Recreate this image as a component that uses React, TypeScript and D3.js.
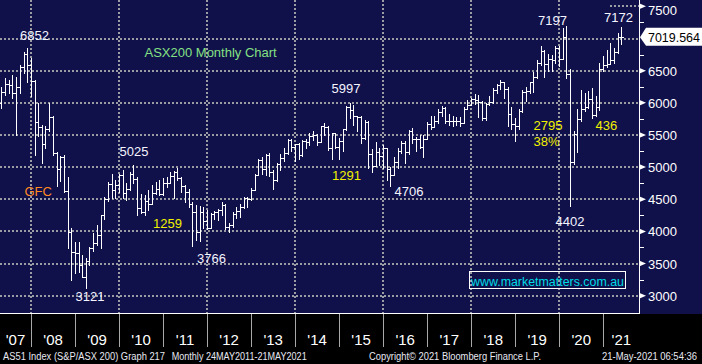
import React from "react";
import * as d3 from "d3";

// ---------- DATA ----------
const MONTHS: string[] = [
  "2007-04","2007-05","2007-06","2007-07","2007-08","2007-09","2007-10","2007-11","2007-12",
  "2008-01","2008-02","2008-03","2008-04","2008-05","2008-06","2008-07","2008-08","2008-09","2008-10","2008-11","2008-12",
  "2009-01","2009-02","2009-03","2009-04","2009-05","2009-06","2009-07","2009-08","2009-09","2009-10","2009-11","2009-12",
  "2010-01","2010-02","2010-03","2010-04","2010-05","2010-06","2010-07","2010-08","2010-09","2010-10","2010-11","2010-12",
  "2011-01","2011-02","2011-03","2011-04","2011-05","2011-06","2011-07","2011-08","2011-09","2011-10","2011-11","2011-12",
  "2012-01","2012-02","2012-03","2012-04","2012-05","2012-06","2012-07","2012-08","2012-09","2012-10","2012-11","2012-12",
  "2013-01","2013-02","2013-03","2013-04","2013-05","2013-06","2013-07","2013-08","2013-09","2013-10","2013-11","2013-12",
  "2014-01","2014-02","2014-03","2014-04","2014-05","2014-06","2014-07","2014-08","2014-09","2014-10","2014-11","2014-12",
  "2015-01","2015-02","2015-03","2015-04","2015-05","2015-06","2015-07","2015-08","2015-09","2015-10","2015-11","2015-12",
  "2016-01","2016-02","2016-03","2016-04","2016-05","2016-06","2016-07","2016-08","2016-09","2016-10","2016-11","2016-12",
  "2017-01","2017-02","2017-03","2017-04","2017-05","2017-06","2017-07","2017-08","2017-09","2017-10","2017-11","2017-12",
  "2018-01","2018-02","2018-03","2018-04","2018-05","2018-06","2018-07","2018-08","2018-09","2018-10","2018-11","2018-12",
  "2019-01","2019-02","2019-03","2019-04","2019-05","2019-06","2019-07","2019-08","2019-09","2019-10","2019-11","2019-12",
  "2020-01","2020-02","2020-03","2020-04","2020-05","2020-06","2020-07","2020-08","2020-09","2020-10","2020-11","2020-12",
  "2021-01","2021-02","2021-03","2021-04","2021-05",
];

const OPEN: number[] = [
  6000,6170,6300,6274,6148,6248,6560,6760,6590,
  6340,5697,5627,5355,5598,5773,5215,4975,5160,4632,3983,3672,
  3659,3478,3296,3532,3745,3813,3947,4249,4508,4743,4643,4715,
  4883,4596,4659,4894,4809,4367,4301,4479,4428,4599,4661,4584,
  4745,4753,4856,4929,4823,4704,4608,4424,4297,3985,4298,4164,
  4057,4263,4304,4335,4403,4066,4095,4276,4316,4387,4517,4506,
  4649,4879,5104,4967,5191,4926,4803,5052,5135,5218,5426,5320,
  5352,5190,5405,5394,5489,5492,5396,5633,5625,5292,5527,5313,
  5411,5588,5929,5891,5790,5777,5459,5699,5207,5022,5239,5167,
  5296,4977,4881,5083,5252,5378,5233,5562,5433,5436,5318,5440,
  5666,5621,5712,5864,5924,5724,5721,5720,5715,5682,5909,5970,
  6065,6037,6016,5759,5982,6012,6195,6281,6320,6208,5830,5667,
  5646,5865,6169,6181,6325,6397,6619,6813,6604,6688,6663,6846,
  6684,7017,6441,5077,5522,5755,5898,5928,6061,5816,5928,6518,
  6587,6607,6673,6791,7025,
];

const HIGH: number[] = [
  6250,6390,6360,6435,6405,6590,6790,6852,6690,
  6360,6000,5650,5640,5997,5800,5240,5170,5190,4850,4050,3840,
  3840,3630,3580,3750,3970,4100,4256,4540,4774,4900,4800,4890,
  4955,4750,4930,5025,4850,4580,4560,4640,4720,4775,4800,4826,
  4850,4930,4940,4980,4850,4720,4660,4450,4410,4400,4385,4330,
  4280,4320,4350,4450,4420,4130,4300,4380,4420,4530,4540,4670,
  4890,5130,5150,5200,5220,4950,5070,5200,5290,5440,5440,5360,
  5380,5420,5440,5530,5560,5510,5640,5680,5640,5530,5530,5450,
  5600,5950,5997,5960,5800,5790,5730,5720,5280,5390,5300,5340,
  5300,5000,5150,5290,5410,5400,5570,5610,5470,5500,5500,5700,
  5800,5800,5900,5950,5940,5830,5800,5780,5780,5930,6050,6080,
  6140,6120,6030,6000,6110,6230,6300,6360,6330,6250,5930,5760,
  5900,6200,6250,6330,6480,6660,6880,6820,6760,6750,6880,6880,
  7160,7197,6520,5560,5910,6200,6160,6180,6230,6100,6620,6730,
  6820,6930,6850,7080,7172,
];

const LOW: number[] = [
  5925,6120,6150,6070,5500,6150,6460,6330,6100,
  5186,5480,5060,5300,5560,5190,4700,4780,4620,3740,3250,3350,
  3370,3290,3121,3480,3700,3790,3740,4200,4480,4520,4515,4618,
  4520,4489,4645,4760,4250,4290,4250,4340,4420,4580,4560,4570,
  4690,4750,4520,4800,4620,4460,4385,3766,3870,3850,4060,4040,
  4050,4200,4180,4250,4030,3990,4070,4210,4230,4360,4380,4490,
  4640,4870,4890,4880,4860,4660,4780,4950,5090,5210,5250,5100,
  5130,5170,5300,5340,5420,5350,5390,5500,5270,5120,5300,5130,
  5250,5580,5760,5650,5560,5380,5430,4990,4920,5010,5030,4980,
  4800,4706,4870,4990,5220,5060,5200,5380,5250,5300,5150,5440,
  5600,5620,5690,5800,5680,5650,5640,5650,5640,5680,5900,5960,
  5980,5780,5740,5740,5970,5990,6150,6210,6080,5640,5600,5410,
  5600,5860,6030,6150,6170,6390,6590,6400,6490,6490,6620,6580,
  6680,6380,4402,5050,5240,5720,5880,5920,5760,5790,5890,6500,
  6560,6620,6620,6770,6920,
];

const CLOSE: number[] = [
  6170,6300,6274,6148,6248,6560,6760,6590,6340,
  5697,5627,5355,5598,5773,5215,4975,5160,4632,3983,3672,3659,
  3478,3296,3532,3745,3813,3947,4249,4508,4743,4643,4715,4883,
  4596,4659,4894,4809,4367,4301,4479,4428,4599,4661,4584,4745,
  4753,4856,4929,4823,4704,4608,4424,4297,3985,4298,4164,4057,
  4263,4304,4335,4403,4066,4095,4276,4316,4387,4517,4506,4649,
  4879,5104,4967,5191,4926,4803,5052,5135,5218,5426,5320,5352,
  5190,5405,5394,5489,5492,5396,5633,5625,5292,5527,5313,5411,
  5588,5929,5891,5790,5777,5459,5699,5207,5022,5239,5167,5296,
  4977,4881,5083,5252,5378,5233,5562,5433,5436,5318,5440,5666,
  5621,5712,5864,5924,5724,5721,5720,5715,5682,5909,5970,6065,
  6037,6016,5759,5982,6012,6195,6281,6320,6208,5830,5667,5646,
  5865,6169,6181,6325,6397,6619,6813,6604,6688,6663,6846,6684,
  7017,6441,5077,5522,5755,5898,5928,6061,5816,5928,6518,6587,
  6607,6673,6791,7025,7019.564,
];

const LAST_PRICE = 7019.564;
const Y_TICKS: number[] = [3000, 3500, 4000, 4500, 5000, 5500, 6000, 6500, 7000, 7500];
const Y_GRID: number[] = [3000, 3500, 4000, 4500, 5000, 5500, 6000, 6500, 7000];
const Y_MINOR: number[] = [3250, 3750, 4250, 4750, 5250, 5750, 6250, 6750, 7250];
const YEARS: number[] = [2007,2008,2009,2010,2011,2012,2013,2014,2015,2016,2017,2018,2019,2020,2021];
const YEAR_LABELS: string[] = ["'07","'08","'09","'10","'11","'12","'13","'14","'15","'16","'17","'18","'19","'20","'21"];
const GRID_YEARS: number[] = [2008, 2010, 2012, 2014, 2016, 2018, 2020];

const TITLE = "ASX200 Monthly Chart";
const PEAK_TROUGH_LABELS: string[] = ["6852", "5025", "3121", "3766", "5997", "4706", "7197", "7172", "4402"];
const MOVE_LABELS: string[] = ["1259", "1291", "2795", "38%", "436"];
const EVENT_LABEL = "GFC";
const WEBSITE = "www.marketmatters.com.au";
const FOOTER: string[] = [
  "AS51 Index (S&P/ASX 200) Graph 217",
  "Monthly 24MAY2011-21MAY2021",
  "Copyright\u00A9 2021 Bloomberg Finance L.P.",
  "21-May-2021 06:54:36",
];

// ---------- LAYOUT / STYLE ----------
const W = 702;
const H = 364;
const PLOT_BOTTOM = 314;
const AXIS_X = 639.5;
const NAVY = "#10104a";
const GRID = "#9c9ca4";
const FONT = "'Liberation Sans', Arial, Helvetica, sans-serif";

const PEAK_POS: [number, number][] = [
  [20, 39.5], [119.5, 156], [75.5, 300.5], [197, 262.5], [331.5, 93], [394.5, 196], [538, 25], [604, 21.5], [555.5, 225.5],
];
const MOVE_POS: [number, number][] = [[153, 227.5], [332, 179.5], [533.5, 130], [533.5, 145.5], [595.5, 130]];

const parseMonth = (s: string) => {
  const [y, m] = s.split("-").map(Number);
  return new Date(y, m, 0); // last day of month
};

export default function App() {
  const x = d3
    .scaleTime()
    .domain([new Date(2008, 0, 1), new Date(2021, 0, 1)])
    .range([31, 603.3]);
  const y = d3.scaleLinear().domain([2715.4, 7598.8]).range([PLOT_BOTTOM, 0]);

  const bars = MONTHS.map((m, i) => {
    const xi = Math.round(x(parseMonth(m)));
    const yh = Math.round(y(HIGH[i]));
    const yl = Math.round(y(LOW[i]));
    const yo = Math.round(y(OPEN[i]));
    const yc = Math.round(y(CLOSE[i]));
    return `M${xi + 0.5},${yh}V${yl + 1}M${xi - 2},${yo + 0.5}H${xi + 0.5}M${xi + 0.5},${yc + 0.5}H${xi + 3}`;
  }).join("");

  const yearSeg = YEARS.map((yr, i) => {
    const a = Math.max(0, x(new Date(yr, 0, 1)));
    const b = Math.min(AXIS_X, x(new Date(yr + 1, 0, 1)));
    return { label: YEAR_LABELS[i], cx: (a + b) / 2 };
  });

  const lastY = y(LAST_PRICE);

  return (
    <svg
      width={W}
      height={H}
      style={{ position: "absolute", left: 0, top: 0, display: "block" }}
      fontFamily={FONT}
    >
      <rect x={0} y={0} width={W} height={H} fill="#000" />
      <rect x={0} y={0} width={W} height={PLOT_BOTTOM} fill={NAVY} />

      {/* horizontal grid */}
      {Y_GRID.map((v) => {
        const yy = Math.round(y(v));
        return (
          <line key={"hg" + v} x1={0} x2={AXIS_X - 1} y1={yy} y2={yy} stroke={GRID} strokeWidth={2} strokeDasharray="2 2" shapeRendering="crispEdges" />
        );
      })}
      <line x1={610} x2={AXIS_X - 1} y1={Math.round(y(7500))} y2={Math.round(y(7500))} stroke={GRID} strokeWidth={2} strokeDasharray="2 2" shapeRendering="crispEdges" />

      {/* vertical grid */}
      {GRID_YEARS.map((yr) => {
        const xx = Math.round(x(new Date(yr, 0, 1)));
        return (
          <line key={"vg" + yr} x1={xx} x2={xx} y1={0} y2={PLOT_BOTTOM} stroke={GRID} strokeWidth={2} strokeDasharray="2 2" shapeRendering="crispEdges" />
        );
      })}

      {/* OHLC bars */}
      <path d={bars} stroke="#ffffff" strokeWidth={1} fill="none" shapeRendering="crispEdges" />

      {/* axes lines */}
      <line x1={0} x2={AXIS_X + 0.5} y1={PLOT_BOTTOM - 0.5} y2={PLOT_BOTTOM - 0.5} stroke="#ffffff" strokeWidth={1} shapeRendering="crispEdges" />
      <line x1={AXIS_X} x2={AXIS_X} y1={0} y2={PLOT_BOTTOM} stroke="#ffffff" strokeWidth={1} shapeRendering="crispEdges" />

      {/* right axis ticks & labels (the 7000 label sits under the last-price box) */}
      {Y_MINOR.map((v) => {
        const yy = Math.round(y(v)) + 0.5;
        return <line key={"mn" + v} x1={AXIS_X} x2={AXIS_X + 4} y1={yy} y2={yy} stroke="#ffffff" strokeWidth={1} shapeRendering="crispEdges" />;
      })}
      {Y_TICKS.filter((v) => Math.abs(y(v) - y(LAST_PRICE)) > 12).map((v) => {
        const yy = y(v);
        return (
          <g key={"yt" + v}>
            <polygon points={`${AXIS_X - 0.5},${yy - 3} ${AXIS_X + 6.5},${yy} ${AXIS_X - 0.5},${yy + 3}`} fill="#ffffff" />
            <text x={648} y={Math.max(yy + 5, 15)} fontSize={13} fill="#ffffff">
              {d3.format("d")(v)}
            </text>
          </g>
        );
      })}

      {/* last price box */}
      <polygon
        points={`${AXIS_X + 0.5},${lastY} ${646},${lastY - 9.5} ${W},${lastY - 9.5} ${W},${lastY + 8.5} ${646},${lastY + 8.5}`}
        fill="#ffffff"
      />
      <text x={648} y={lastY + 5} fontSize={13} fill="#000000" textLength={52} lengthAdjust="spacingAndGlyphs">
        {d3.format(".3f")(LAST_PRICE)}
      </text>

      {/* annotations */}
      <text x={144.5} y={56.5} fontSize={13} fill="#84e084">{TITLE}</text>
      <text x={24.5} y={196} fontSize={13} fill="#ff8a22">{EVENT_LABEL}</text>
      {PEAK_TROUGH_LABELS.map((t, i) => (
        <text key={"pk" + i} x={PEAK_POS[i][0]} y={PEAK_POS[i][1]} fontSize={13} fill="#f4f4ff">{t}</text>
      ))}
      {MOVE_LABELS.map((t, i) => (
        <text key={"mv" + i} x={MOVE_POS[i][0]} y={MOVE_POS[i][1]} fontSize={13} fill="#f0f000">{t}</text>
      ))}

      {/* website box */}
      <rect x={469.5} y={271.5} width={156} height={17} fill="none" stroke="#ffffff" strokeWidth={1} shapeRendering="crispEdges" />
      <text x={471} y={285.5} fontSize={12.5} fill="#00dce6" textLength={153} lengthAdjust="spacingAndGlyphs">{WEBSITE}</text>

      {/* year band */}
      {YEARS.slice(1).map((yr) => {
        const xx = Math.round(x(new Date(yr, 0, 1))) + 0.5;
        return <line key={"ys" + yr} x1={xx} x2={xx} y1={PLOT_BOTTOM} y2={347} stroke="#a8a8a8" strokeWidth={1} shapeRendering="crispEdges" />;
      })}
      {yearSeg.map((s) => (
        <text key={"yl" + s.label} x={s.cx} y={345} fontSize={15} fill="#ffffff" textAnchor="middle">{s.label}</text>
      ))}

      {/* footer */}
      <text x={3} y={360} fontSize={10} fill="#e8e8f2" textLength={162} lengthAdjust="spacingAndGlyphs">{FOOTER[0]}</text>
      <text x={171.7} y={360} fontSize={10} fill="#e8e8f2" textLength={135} lengthAdjust="spacingAndGlyphs">{FOOTER[1]}</text>
      <text x={369} y={360} fontSize={10} fill="#e8e8f2" textLength={172} lengthAdjust="spacingAndGlyphs">{FOOTER[2]}</text>
      <text x={602} y={360} fontSize={10} fill="#e8e8f2" textLength={95} lengthAdjust="spacingAndGlyphs">{FOOTER[3]}</text>
    </svg>
  );
}
